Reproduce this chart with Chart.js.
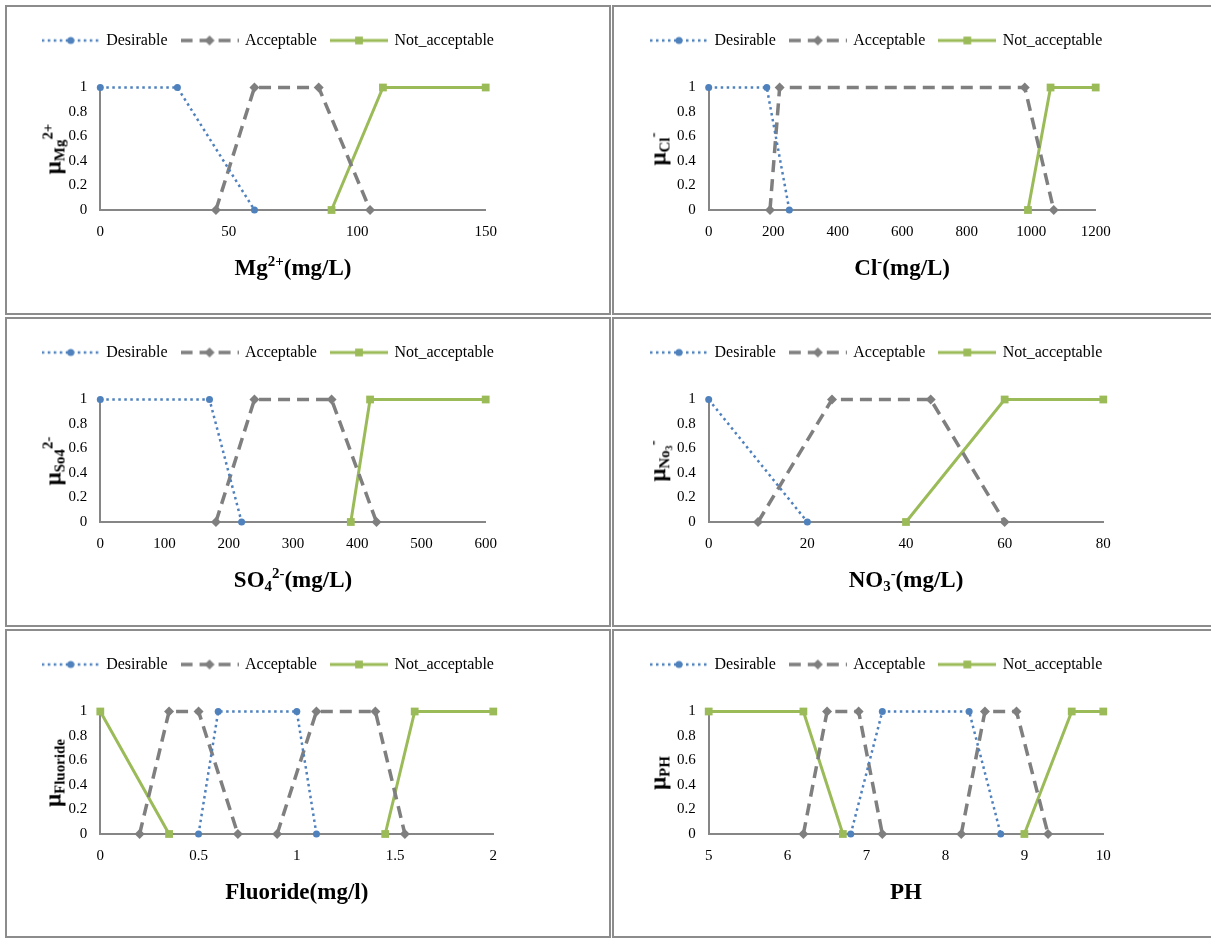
<!DOCTYPE html>
<html>
<head>
<meta charset="utf-8">
<script src="https://cdn.jsdelivr.net/npm/chart.js@4.4.1/dist/chart.umd.min.js"></script>
<style>
  body { margin: 0; background: #fff; width: 1211px; height: 938px; overflow: hidden; position: relative; font-family: 'Liberation Serif', 'Times New Roman', serif; }
  .panel { position: absolute; border: 2px solid #8c8c8c; box-sizing: border-box; background: #fff; overflow: hidden; }
  .panel canvas { position: absolute; left: 0; top: 0; }
  .xt, .yt { position: absolute; font-weight: bold; font-size: 23px; line-height: 1; white-space: nowrap; color: #000; }
  .xt { transform: translate(-50%, -50%); }
  .yt { transform: translate(-50%, -50%) rotate(-90deg); }
  sup, sub { font-size: 0.65em; line-height: 0; }
  sup { vertical-align: 0.55em; }
  sub { vertical-align: -0.3em; }
</style>
</head>
<body>
<script>
// 6 つのメンバーシップ関数グラフ（Desirable / Acceptable / Not_acceptable）

const seriesNames = ["Desirable", "Acceptable", "Not_acceptable"];

// Mg2+
const mgDesirable = [[0, 1], [30, 1], [60, 0]];
const mgAcceptable = [[45, 0], [60, 1], [85, 1], [105, 0]];
const mgNotAcceptable = [[90, 0], [110, 1], [150, 1]];
const mgTicks = [0, 50, 100, 150];

// Cl-
const clDesirable = [[0, 1], [180, 1], [250, 0]];
const clAcceptable = [[190, 0], [220, 1], [980, 1], [1070, 0]];
const clNotAcceptable = [[990, 0], [1060, 1], [1200, 1]];
const clTicks = [0, 200, 400, 600, 800, 1000, 1200];

// SO4 2-
const so4Desirable = [[0, 1], [170, 1], [220, 0]];
const so4Acceptable = [[180, 0], [240, 1], [360, 1], [430, 0]];
const so4NotAcceptable = [[390, 0], [420, 1], [600, 1]];
const so4Ticks = [0, 100, 200, 300, 400, 500, 600];

// NO3-
const no3Desirable = [[0, 1], [20, 0]];
const no3Acceptable = [[10, 0], [25, 1], [45, 1], [60, 0]];
const no3NotAcceptable = [[40, 0], [60, 1], [80, 1]];
const no3Ticks = [0, 20, 40, 60, 80];

// Fluoride（null で線を切る）
const fluorideDesirable = [[0.5, 0], [0.6, 1], [1.0, 1], [1.1, 0]];
const fluorideAcceptable = [[0.2, 0], [0.35, 1], [0.5, 1], [0.7, 0], [null, null], [0.9, 0], [1.1, 1], [1.4, 1], [1.55, 0]];
const fluorideNotAcceptable = [[0, 1], [0.35, 0], [null, null], [1.45, 0], [1.6, 1], [2, 1]];
const fluorideTicks = [0, 0.5, 1, 1.5, 2];

// PH
const phDesirable = [[6.8, 0], [7.2, 1], [8.3, 1], [8.7, 0]];
const phAcceptable = [[6.2, 0], [6.5, 1], [6.9, 1], [7.2, 0], [null, null], [8.2, 0], [8.5, 1], [8.9, 1], [9.3, 0]];
const phNotAcceptable = [[5, 1], [6.2, 1], [6.7, 0], [null, null], [9, 0], [9.6, 1], [10, 1]];
const phTicks = [5, 6, 7, 8, 9, 10];

const yTicks = [0, 0.2, 0.4, 0.6, 0.8, 1];

const FONT = "'Liberation Serif', 'Times New Roman', serif";

// 系列ごとの線・マーカーの見た目
const seriesStyles = [
  { color: "#4F81BD", width: 2.5, dash: [2.5, 3.5], pointStyle: "circle", radius: 3.5 },
  { color: "#7F7F7F", width: 3.5, dash: [12, 7], pointStyle: "rectRot", radius: 5 },
  { color: "#9BBB59", width: 3, dash: [], pointStyle: "rect", radius: 5.5 },
];

// パネル配置（行・列）
const colLeft = [5, 612];
const rowTop = [5, 317, 629];
const rowHeight = [310, 310, 309];
const PANEL_W = 606;

const panels = [
  { series: [mgDesirable, mgAcceptable, mgNotAcceptable], ticks: mgTicks, col: 0, row: 0, plotRight: 478.7,
    xTitle: "Mg<sup>2+</sup>(mg/L)", yTitle: "μ<sub>Mg</sub><sup>2+</sup>" },
  { series: [clDesirable, clAcceptable, clNotAcceptable], ticks: clTicks, col: 1, row: 0, plotRight: 481.7,
    xTitle: "Cl<sup>-</sup>(mg/L)", yTitle: "μ<sub>Cl</sub><sup>-</sup>" },
  { series: [so4Desirable, so4Acceptable, so4NotAcceptable], ticks: so4Ticks, col: 0, row: 1, plotRight: 478.7,
    xTitle: "SO<sub>4</sub><sup>2-</sup>(mg/L)", yTitle: "μ<sub>So4</sub><sup>2-</sup>" },
  { series: [no3Desirable, no3Acceptable, no3NotAcceptable], ticks: no3Ticks, col: 1, row: 1, plotRight: 489.3,
    xTitle: "NO<sub>3</sub><sup>-</sup>(mg/L)", yTitle: "μ<sub>No<sub>3</sub></sub><sup>-</sup>" },
  { series: [fluorideDesirable, fluorideAcceptable, fluorideNotAcceptable], ticks: fluorideTicks, col: 0, row: 2, plotRight: 486.3,
    xTitle: "Fluoride(mg/l)", yTitle: "μ<sub>Fluoride</sub>" },
  { series: [phDesirable, phAcceptable, phNotAcceptable], ticks: phTicks, col: 1, row: 2, plotRight: 489.3,
    xTitle: "PH", yTitle: "μ<sub>PH</sub>" },
];

const PLOT_TOP = 80.5;
const PLOT_BOTTOM = 203;
const LEGEND_TOP = 11;
const LEGEND_PAD = 14.5;
const LEGEND_FONT = 16;
const plotLeftByCol = [93.3, 94.7];
const legendLeftByCol = [21.7, 23];
const yTitleXByCol = [46, 44];
const X_TITLE_Y = 260;

/**
 * 凡例用の「線＋マーカー」画像を作る。
 */
const makeLegendIcon = (st) => {
  const c = document.createElement("canvas");
  c.width = 58;
  c.height = 14;
  const g = c.getContext("2d");
  g.strokeStyle = st.color;
  g.lineWidth = st.width;
  g.setLineDash(st.dash);
  g.beginPath();
  g.moveTo(0, 7);
  g.lineTo(58, 7);
  g.stroke();
  g.setLineDash([]);
  g.fillStyle = st.color;
  const r = st.radius;
  g.beginPath();
  if (st.pointStyle === "circle") {
    g.arc(29, 7, r, 0, Math.PI * 2);
  } else if (st.pointStyle === "rectRot") {
    g.moveTo(29, 7 - r); g.lineTo(29 + r, 7); g.lineTo(29, 7 + r); g.lineTo(29 - r, 7);
    g.closePath();
  } else {
    const s = r * Math.SQRT1_2;
    g.rect(29 - s, 7 - s, 2 * s, 2 * s);
  }
  g.fill();
  return c;
};

const legendIcons = seriesStyles.map(makeLegendIcon);

const buildPanel = (p) => {
  const W = PANEL_W - 4;
  const H = rowHeight[p.row] - 4;
  const plotLeft = plotLeftByCol[p.col];
  const legendLeft = legendLeftByCol[p.col];

  const box = document.createElement("div");
  box.className = "panel";
  box.style.left = colLeft[p.col] + "px";
  box.style.top = rowTop[p.row] + "px";
  box.style.width = PANEL_W + "px";
  box.style.height = rowHeight[p.row] + "px";
  document.body.appendChild(box);

  const canvas = document.createElement("canvas");
  canvas.width = W;
  canvas.height = H;
  box.appendChild(canvas);

  const xt = document.createElement("div");
  xt.className = "xt";
  xt.innerHTML = p.xTitle;
  xt.style.left = (plotLeft + p.plotRight) / 2 + "px";
  xt.style.top = X_TITLE_Y + "px";
  box.appendChild(xt);

  const yt = document.createElement("div");
  yt.className = "yt";
  yt.innerHTML = p.yTitle;
  yt.style.left = yTitleXByCol[p.col] + "px";
  yt.style.top = (PLOT_TOP + PLOT_BOTTOM) / 2 + "px";
  box.appendChild(yt);

  const tickFont = { family: FONT, size: 15 };
  // 凡例とプロットの間の空き（空のサブタイトルで確保）
  // Chart.js の横向き凡例の高さ = 項目高さ + padding + 10
  const legendBottom = LEGEND_TOP + LEGEND_FONT + LEGEND_PAD + 10;
  const spacer = PLOT_TOP - legendBottom - 1.2;

  new Chart(canvas, {
    type: "scatter",
    data: {
      datasets: p.series.map((pts, i) => ({
        label: seriesNames[i],
        data: pts.map(([x, y]) => ({ x, y })),
        showLine: true,
        borderColor: seriesStyles[i].color,
        backgroundColor: seriesStyles[i].color,
        borderWidth: seriesStyles[i].width,
        borderDash: seriesStyles[i].dash,
        pointStyle: seriesStyles[i].pointStyle,
        pointRadius: seriesStyles[i].radius,
        pointBorderWidth: 0,
        clip: false,
      })),
    },
    options: {
      responsive: false,
      animation: false,
      layout: { padding: { left: legendLeft, right: 0, top: LEGEND_TOP, bottom: 0 } },
      plugins: {
        tooltip: { enabled: false },
        subtitle: {
          display: true,
          text: "",
          position: "top",
          weight: 0,
          font: { size: 1 },
          padding: { top: 0, bottom: spacer },
        },
        legend: {
          position: "top",
          align: "start",
          labels: {
            usePointStyle: true,
            pointStyleWidth: 55,
            padding: LEGEND_PAD,
            color: "#000",
            font: { family: FONT, size: LEGEND_FONT },
            generateLabels: (chart) =>
              chart.data.datasets.map((ds, i) => ({
                text: ds.label,
                pointStyle: legendIcons[i],
                fillStyle: "transparent",
                strokeStyle: "transparent",
                lineWidth: 0,
                fontColor: "#000",
                hidden: false,
                datasetIndex: i,
              })),
          },
        },
      },
      scales: {
        x: {
          type: "linear",
          min: p.ticks[0],
          max: p.ticks[p.ticks.length - 1],
          ticks: {
            stepSize: p.ticks[1] - p.ticks[0],
            padding: 13,
            color: "#000",
            font: tickFont,
            maxRotation: 0,
            callback: (v) => String(v),
          },
          grid: { display: false, drawTicks: false },
          border: { color: "#868686", width: 2 },
          afterFit: (s) => {
            s.height = H - PLOT_BOTTOM;
            s.paddingLeft = 0;
            // 右余白はスケールのパディングで確保（凡例幅を狭めないため）
            s.paddingRight = W - p.plotRight;
          },
        },
        y: {
          min: yTicks[0],
          max: yTicks[yTicks.length - 1],
          ticks: {
            stepSize: yTicks[1] - yTicks[0],
            padding: 13,
            color: "#000",
            font: tickFont,
            callback: (v) => String(Math.round(v * 10) / 10),
          },
          grid: { display: false, drawTicks: false },
          border: { color: "#868686", width: 2 },
          afterFit: (s) => {
            s.width = plotLeft - legendLeft;
          },
        },
      },
    },
  });
};

panels.forEach(buildPanel);
</script>
</body>
</html>
